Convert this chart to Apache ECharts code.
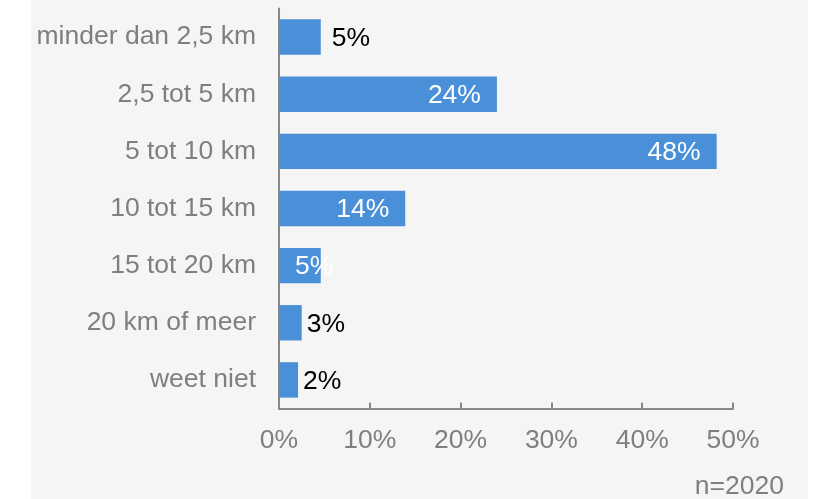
<!DOCTYPE html>
<html>
<head>
<meta charset="utf-8">
<script src="https://cdn.jsdelivr.net/npm/echarts@6/dist/echarts.min.js"></script>
<style>
  html, body { margin: 0; padding: 0; background: #fff; }
  #chart { width: 824px; height: 499px; }
</style>
</head>
<body>
<div id="chart"></div>
<script>
var categories = ['minder dan 2,5 km', '2,5 tot 5 km', '5 tot 10 km', '10 tot 15 km', '15 tot 20 km', '20 km of meer', 'weet niet'];
var values = [4.6, 24.0, 48.2, 13.9, 4.6, 2.5, 2.1];
var valueLabels = ['5%', '24%', '48%', '14%', '5%', '3%', '2%'];
var xTicks = [0, 10, 20, 30, 40, 50];
var sampleNote = 'n=2020';

var myChart = echarts.init(document.getElementById('chart'));
var font = 'Liberation Sans, Arial, sans-serif';
var gray = '#7f7f7f';
var fs = 26.5;

// label placement per bar, as in the original
var labelSetup = [
    { position: 'right', distance: 11, color: '#000' },
    { position: 'insideRight', distance: 16, color: '#fff' },
    { position: 'insideRight', distance: 16, color: '#fff' },
    { position: 'insideRight', distance: 16, color: '#fff' },
    { position: 'insideLeft', distance: 16, color: '#fff' },
    { position: 'right', distance: 5, color: '#000' },
    { position: 'right', distance: 5, color: '#000' }
];

var barData = values.map(function (v, i) {
    return {
        value: v,
        label: labelSetup[i]
    };
});

var option = {
    backgroundColor: '#fff',
    animation: false,
    textStyle: { fontFamily: font },
    graphic: [{
        type: 'rect',
        z: -10,
        shape: { x: 31, y: 0, width: 777, height: 499 },
        style: { fill: '#f5f5f5' }
    }],
    title: {
        text: sampleNote,
        right: 40,
        top: 473,
        padding: 0,
        textStyle: { fontSize: fs, fontWeight: 'normal', color: gray, fontFamily: font }
    },
    grid: {
        left: 279,
        right: 91,
        top: 8.5,
        height: 400,
        containLabel: false
    },
    xAxis: {
        type: 'value',
        min: xTicks[0],
        max: xTicks[xTicks.length - 1],
        interval: 10,
        splitLine: { show: false },
        axisLine: { show: true, lineStyle: { color: '#888', width: 2 } },
        axisTick: { show: true, inside: true, length: 6, lineStyle: { color: '#888', width: 2 } },
        axisLabel: {
            margin: 19,
            fontSize: fs,
            color: gray,
            fontFamily: font,
            formatter: function (v) { return v + '%'; }
        }
    },
    yAxis: {
        type: 'category',
        inverse: true,
        data: categories,
        axisLine: { show: true, lineStyle: { color: '#888', width: 2 } },
        axisTick: { show: false },
        axisLabel: { margin: 23, fontSize: fs, color: gray, fontFamily: font, padding: [3, 0, 0, 0] }
    },
    series: [{
        type: 'bar',
        data: barData,
        barCategoryGap: '38%',
        itemStyle: { color: '#4a90d9' },
        label: {
            show: true,
            fontSize: fs,
            fontFamily: font,
            offset: [0, 1.5],
            formatter: function (p) { return valueLabels[p.dataIndex]; }
        }
    }]
};

myChart.setOption(option);
</script>
</body>
</html>
